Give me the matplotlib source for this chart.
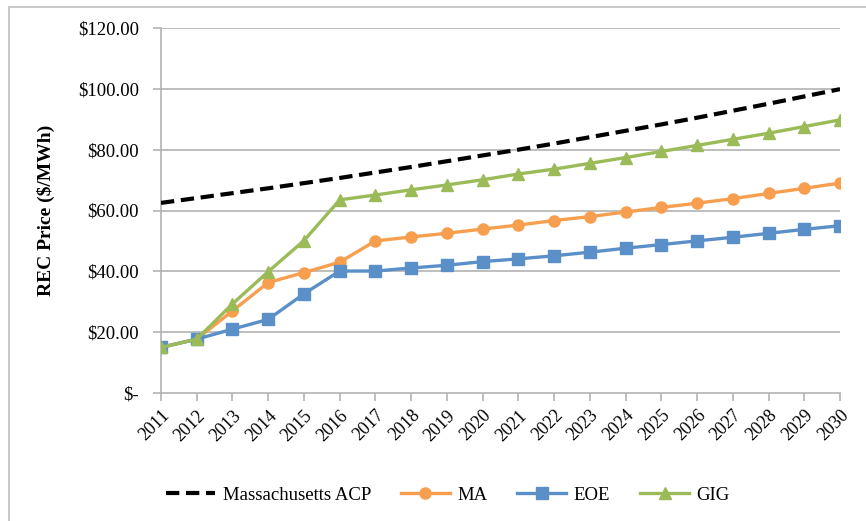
import matplotlib
matplotlib.use("Agg")
import matplotlib.pyplot as plt
from matplotlib.patches import Rectangle

years = list(range(2011, 2031))
acp = [62.5, 64.1, 65.7, 67.3, 69.0, 70.7, 72.5, 74.3, 76.2, 78.1,
       80.0, 82.0, 84.1, 86.2, 88.3, 90.5, 92.8, 95.1, 97.5, 99.9]
ma = [15.0, 17.7, 27.0, 36.3, 39.6, 43.0, 50.0, 51.3, 52.5, 53.9,
      55.2, 56.7, 58.0, 59.5, 61.0, 62.4, 63.9, 65.6, 67.3, 69.0]
eoe = [15.0, 17.7, 21.0, 24.2, 32.6, 40.1, 40.1, 41.1, 42.0, 43.2,
       44.1, 45.1, 46.3, 47.6, 48.8, 50.0, 51.2, 52.5, 53.8, 55.0]
gig = [15.0, 17.7, 29.3, 39.9, 50.1, 63.5, 65.1, 66.8, 68.4, 70.1,
       72.0, 73.6, 75.5, 77.4, 79.4, 81.4, 83.4, 85.4, 87.6, 89.8]
yticks = [0, 20, 40, 60, 80, 100, 120]
ytick_labels = ["$-", "$20.00", "$40.00", "$60.00", "$80.00", "$100.00", "$120.00"]
series_names = ["Massachusetts ACP", "MA", "EOE", "GIG"]
ylabel = "REC Price ($/MWh)"

plt.rcParams['font.family'] = ['Liberation Serif', 'DejaVu Serif']

fig = plt.figure(figsize=(8.66, 5.21), dpi=100)
fig.patches.append(Rectangle((9/866, -0.5), 2.0, 1.5 - 7/521, transform=fig.transFigure,
                             fill=False, edgecolor='#c0c0c0', linewidth=1.2))
ax = fig.add_axes([161/866, 1 - 393/521, (840 - 161)/866, (393 - 28)/521])

grid_c = '#b3b3b3'
for y in yticks[1:]:
    ax.axhline(y, color=grid_c, linewidth=1.2, zorder=0)

ax.plot(years, acp, color='black', linestyle=(0, (3.2, 1.6)), linewidth=3, label=series_names[0], zorder=3)
ax.plot(years, ma, color='#F79F4F', marker='o', markersize=8, linewidth=2.4, label=series_names[1], zorder=3)
ax.plot(years, eoe, color='#5B8FC8', marker='s', markersize=8, linewidth=2.4, label=series_names[2], zorder=3)
ax.plot(years, gig, color='#9BBB59', marker='^', markersize=9, linewidth=2.4, label=series_names[3], zorder=4)

ax.set_xlim(2011, 2030)
ax.set_ylim(0, 120)
ax.set_xticks(years)
ax.set_xticklabels([str(y) for y in years], rotation=45, ha='right', rotation_mode='anchor', fontsize=13)
ax.set_yticks(yticks)
ax.set_yticklabels(ytick_labels, fontsize=13.5)
ax.tick_params(axis='both', colors=grid_c, labelcolor='black', length=6, width=1.2, direction='out')
ax.tick_params(axis='x', pad=4)
ax.tick_params(axis='y', pad=10)
for s in ['top', 'right']:
    ax.spines[s].set_visible(False)
for s in ['left', 'bottom']:
    ax.spines[s].set_color(grid_c)
    ax.spines[s].set_linewidth(1.2)

ax.set_ylabel(ylabel, fontsize=14, fontweight='bold')
ax.yaxis.set_label_coords(-0.156, 0.5)

leg = fig.legend(loc='center', bbox_to_anchor=(448/866, 1 - 495/521), ncol=4, frameon=False,
                 fontsize=13.5, handlelength=2.6, columnspacing=1.6, handletextpad=0.4)

fig.savefig('out.png', dpi=100)
